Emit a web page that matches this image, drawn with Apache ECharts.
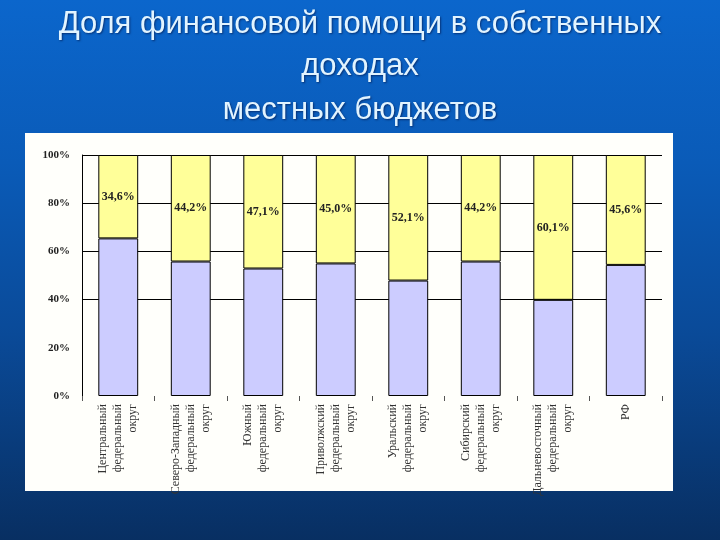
<!DOCTYPE html>
<html>
<head>
<meta charset="utf-8">
<script src="https://cdn.jsdelivr.net/npm/echarts@6/dist/echarts.min.js"></script>
<style>
  html, body { margin: 0; padding: 0; }
  body {
    width: 720px; height: 540px; overflow: hidden; position: relative;
    background: linear-gradient(to bottom, #0b66cc 0%, #0a5bb8 30%, #0a4a98 62%, #082f62 100%);
  }
  #panel { position: absolute; left: 25px; top: 133px; width: 648px; height: 358px; background: #fffffb; }
  #charts { position: absolute; left: 0; top: 0; width: 720px; height: 540px; }
</style>
</head>
<body>
<div id="panel"></div>
<div id="charts"></div>
<script>
// округа
var districts = [
    'Центральный\nфедеральный\nокруг',
    'Северо-Западный\nфедеральный\nокруг',
    'Южный\nфедеральный\nокруг',
    'Приволжский\nфедеральный\nокруг',
    'Уральский\nфедеральный\nокруг',
    'Сибирский\nфедеральный\nокруг',
    'Дальневосточный\nфедеральный\nокруг',
    'РФ'
];
// доля финансовой помощи, %
var aidShare = [34.6, 44.2, 47.1, 45.0, 52.1, 44.2, 60.1, 45.6];
// остальная часть собственных доходов, %
var ownShare = [65.4, 55.8, 52.9, 55.0, 47.9, 55.8, 39.9, 54.4];
// горизонтальные линии сетки (на 20% и 0% их нет)
var gridLevels = [40, 60, 80, 100];
var titleLines = ['Доля финансовой помощи в собственных', 'доходах', 'местных бюджетов'];

var myChart = echarts.init(document.getElementById('charts'));

var titleTops = [9, 51, 95];
var titles = titleLines.map(function (t, i) {
    return {
        text: t, left: 'center', top: titleTops[i], padding: 0,
        textStyle: {
            fontFamily: 'Liberation Sans', fontSize: 31, fontWeight: 'normal',
            color: '#e2f4ff', textShadowColor: 'rgba(0,0,40,0.5)', textShadowBlur: 2, textShadowOffsetX: 1, textShadowOffsetY: 1
        }
    };
});

var option = {
    animation: false,
    title: titles,
    grid: { left: 82, right: 58, top: 155, bottom: 144 },
    xAxis: {
        type: 'category',
        data: districts,
        axisLine: { show: false },
        axisTick: { show: true, length: 5, lineStyle: { color: '#555' } },
        axisLabel: {
            interval: 0, rotate: 90, margin: 8,
            fontFamily: 'Liberation Serif', fontSize: 12, lineHeight: 15, color: '#333'
        }
    },
    yAxis: {
        type: 'value', min: 0, max: 100, interval: 20,
        axisLine: { show: true, lineStyle: { color: '#000', width: 1 } },
        axisTick: { show: false },
        splitLine: { show: false },
        axisLabel: {
            formatter: '{value}%', margin: 12,
            fontFamily: 'Liberation Serif', fontSize: 11, fontWeight: 'bold', color: '#222'
        }
    },
    series: [
        {
            // только линии сетки, под столбцами
            type: 'line', data: [], z: 1,
            markLine: {
                silent: true, symbol: 'none', z: 1, label: { show: false },
                lineStyle: { color: '#000', type: 'solid', width: 1 },
                data: gridLevels.map(function (v) { return { yAxis: v }; })
            }
        },
        {
            name: 'Собственные доходы',
            type: 'bar', stack: 'total', barWidth: '55%', z: 3,
            data: ownShare,
            itemStyle: { color: '#ccccff', borderColor: '#000', borderWidth: 1 }
        },
        {
            name: 'Финансовая помощь',
            type: 'bar', stack: 'total', barWidth: '55%', z: 3,
            data: aidShare,
            itemStyle: { color: '#ffff99', borderColor: '#000', borderWidth: 1 },
            label: {
                show: true, position: 'inside',
                fontFamily: 'Liberation Serif', fontSize: 12, fontWeight: 'bold', color: '#222',
                formatter: function (p) { return p.value.toFixed(1).replace('.', ',') + '%'; }
            }
        }
    ]
};
myChart.setOption(option);
</script>
</body>
</html>
